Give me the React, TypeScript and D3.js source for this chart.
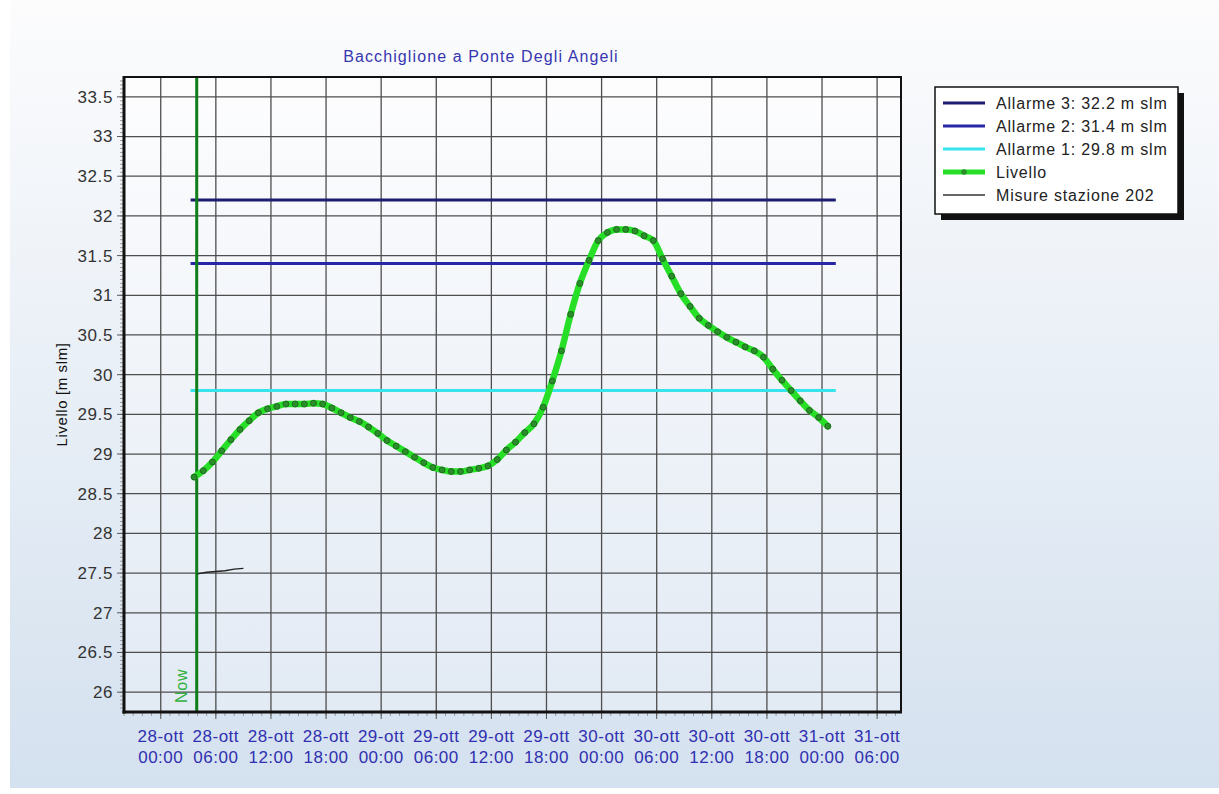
import { useEffect, useRef } from "react";
import * as d3 from "d3";

const title = "Bacchiglione a Ponte Degli Angeli";
const yLabel = "Livello [m slm]";
const nowLabel = "Now";

// x domain of the chart (27-ott 20:00 -> 31-ott 08:36)
const xDomain = [new Date(2018, 9, 27, 20, 0), new Date(2018, 9, 31, 8, 36)];
const yTicks = [26, 26.5, 27, 27.5, 28, 28.5, 29, 29.5, 30, 30.5, 31, 31.5, 32, 32.5, 33, 33.5];
const nowTime = new Date(2018, 9, 28, 3, 55);

// alarm thresholds
const alarmLabels = ["Allarme 3: 32.2 m slm", "Allarme 2: 31.4 m slm", "Allarme 1: 29.8 m slm"];
const alarmValues = [32.2, 31.4, 29.8];
const alarmFrom = new Date(2018, 9, 28, 3, 15);
const alarmTo = new Date(2018, 9, 31, 1, 30);

// forecast level, hourly from 28-ott 03:38
const livelloStart = new Date(2018, 9, 28, 3, 38);
const livello = [
  28.71, 28.79, 28.9, 29.04, 29.18, 29.31, 29.42, 29.52, 29.57, 29.6,
  29.63, 29.63, 29.63, 29.64, 29.63, 29.58, 29.52, 29.46, 29.41, 29.34,
  29.26, 29.17, 29.1, 29.03, 28.96, 28.89, 28.83, 28.8, 28.78, 28.78,
  28.8, 28.82, 28.85, 28.93, 29.05, 29.15, 29.27, 29.38, 29.59, 29.92,
  30.3, 30.76, 31.15, 31.44, 31.69, 31.79, 31.83, 31.83, 31.81, 31.75,
  31.69, 31.46, 31.24, 31.02, 30.86, 30.71, 30.62, 30.54, 30.47, 30.41,
  30.35, 30.3, 30.22, 30.07, 29.93, 29.8, 29.67, 29.55, 29.46, 29.35,
];

// station measurements
const misureTimes = [
  new Date(2018, 9, 28, 4, 0), new Date(2018, 9, 28, 5, 0), new Date(2018, 9, 28, 6, 0),
  new Date(2018, 9, 28, 7, 0), new Date(2018, 9, 28, 8, 0), new Date(2018, 9, 28, 9, 0),
];
const misure = [27.49, 27.51, 27.52, 27.53, 27.55, 27.56];

const legendLabels = [...alarmLabels, "Livello", "Misure stazione 202"];

export default function App() {
  const ref = useRef<SVGSVGElement | null>(null);

  useEffect(() => {
    if (!ref.current) return;
    const width = 1219, height = 794;
    const margin = { top: 77, right: 318, bottom: 82, left: 124 };
    const font = "'Liberation Sans', Arial, sans-serif";

    const svg = d3.select(ref.current);
    svg.selectAll("*").remove();
    svg.attr("width", width).attr("height", height);

    const defs = svg.append("defs");
    const bg = defs.append("linearGradient").attr("id", "bg").attr("x1", 0).attr("y1", 0).attr("x2", 0).attr("y2", 1);
    bg.append("stop").attr("offset", "0%").attr("stop-color", "#fcfcfd");
    bg.append("stop").attr("offset", "100%").attr("stop-color", "#d4e1ef");
    const pbg = defs.append("linearGradient").attr("id", "pbg").attr("x1", 0).attr("y1", 0).attr("x2", 0).attr("y2", 1);
    pbg.append("stop").attr("offset", "0%").attr("stop-color", "#fdfdfe");
    pbg.append("stop").attr("offset", "100%").attr("stop-color", "#e2eaf4");
    const clip = defs.append("clipPath").attr("id", "plotclip");

    svg.append("rect").attr("width", width).attr("height", height).attr("fill", "#ffffff");
    svg.append("rect").attr("x", 10).attr("y", 0).attr("width", width - 10).attr("height", height - 6).attr("fill", "url(#bg)");

    const x = d3.scaleTime().domain(xDomain).range([margin.left, width - margin.right]);
    const y = d3.scaleLinear().domain([25.75, 33.75]).range([height - margin.bottom, margin.top]);
    const [x0, x1] = x.range();
    const [y0, y1] = y.range();

    clip.append("rect").attr("x", x0).attr("y", y1).attr("width", x1 - x0).attr("height", y0 - y1);

    svg.append("rect").attr("x", x0).attr("y", y1).attr("width", x1 - x0).attr("height", y0 - y1).attr("fill", "url(#pbg)");

    // Title
    svg.append("text")
      .attr("x", 481).attr("y", 62)
      .attr("text-anchor", "middle")
      .attr("font-family", font).attr("font-size", 16).attr("letter-spacing", 1.1)
      .attr("fill", "#3636b0")
      .text(title);

    const xTicks = d3.timeHour.every(6)!.range(xDomain[0], xDomain[1]);
    const xMinor = d3.timeMinute.every(90)!.range(xDomain[0], xDomain[1]);
    const yMinor = d3.range(25.8, 33.75, 0.05);

    // Grid
    const grid = svg.append("g").attr("stroke", "#4e4e4e").attr("stroke-width", 1.3);
    grid.selectAll("line.v").data(xTicks).enter().append("line")
      .attr("x1", d => x(d)).attr("x2", d => x(d)).attr("y1", y1).attr("y2", y0);
    grid.selectAll("line.h").data(yTicks).enter().append("line")
      .attr("x1", x0).attr("x2", x1).attr("y1", d => y(d)).attr("y2", d => y(d));

    // minor ticks
    svg.append("g").attr("stroke", "#9a9a9a").selectAll("line").data(yMinor).enter().append("line")
      .attr("x1", x0 - 4).attr("x2", x0).attr("y1", d => y(d)).attr("y2", d => y(d));
    svg.append("g").attr("stroke", "#9a9a9a").selectAll("line").data(xMinor).enter().append("line")
      .attr("x1", d => x(d)).attr("x2", d => x(d)).attr("y1", y0).attr("y2", y0 + 4);
    svg.append("g").attr("stroke", "#555").selectAll("line").data(yTicks).enter().append("line")
      .attr("x1", x0 - 7).attr("x2", x0).attr("y1", d => y(d)).attr("y2", d => y(d));
    svg.append("g").attr("stroke", "#555").selectAll("line").data(xTicks).enter().append("line")
      .attr("x1", d => x(d)).attr("x2", d => x(d)).attr("y1", y0).attr("y2", y0 + 7);

    const plot = svg.append("g").attr("clip-path", "url(#plotclip)");

    // Alarm lines
    const alarmColors = ["#1c1c70", "#2626a6", "#38e4ec"];
    plot.selectAll("line.alarm").data(alarmValues).enter().append("line")
      .attr("x1", x(alarmFrom)).attr("x2", x(alarmTo))
      .attr("y1", d => y(d)).attr("y2", d => y(d))
      .attr("stroke", (_, i) => alarmColors[i]).attr("stroke-width", 3);

    // Now line
    plot.append("line")
      .attr("x1", x(nowTime)).attr("x2", x(nowTime)).attr("y1", y1).attr("y2", y0)
      .attr("stroke", "#0f7d1a").attr("stroke-width", 3);
    svg.append("text")
      .attr("transform", `translate(${x(nowTime) - 10},${y0 - 9}) rotate(-90)`)
      .attr("font-family", font).attr("font-size", 16).attr("letter-spacing", 0.8)
      .attr("fill", "#30b03c")
      .text(nowLabel);

    // Livello
    const livPts = livello.map((v, i) => ({ t: d3.timeHour.offset(livelloStart, i), v }));
    const line = d3.line<{ t: Date; v: number }>().x(d => x(d.t)).y(d => y(d.v)).curve(d3.curveMonotoneX);
    plot.append("path").datum(livPts).attr("d", line)
      .attr("fill", "none").attr("stroke", "#26df26").attr("stroke-width", 6.5)
      .attr("stroke-linejoin", "round").attr("stroke-linecap", "round");
    plot.selectAll("circle.pt").data(livPts).enter().append("circle")
      .attr("cx", d => x(d.t)).attr("cy", d => y(d.v)).attr("r", 3)
      .attr("fill", "#2a8f2a").attr("stroke", "#1a601a").attr("stroke-width", 0.8);

    // Misure
    const misPts = misure.map((v, i) => ({ t: misureTimes[i], v }));
    plot.append("path").datum(misPts).attr("d", d3.line<{ t: Date; v: number }>().x(d => x(d.t)).y(d => y(d.v)))
      .attr("fill", "none").attr("stroke", "#222").attr("stroke-width", 1.4);

    // Plot frame
    svg.append("rect").attr("x", x0).attr("y", y1).attr("width", x1 - x0).attr("height", y0 - y1)
      .attr("fill", "none").attr("stroke", "#111").attr("stroke-width", 2);
    svg.append("line").attr("x1", x0).attr("x2", x0).attr("y1", y1 - 1).attr("y2", y0 + 1.5)
      .attr("stroke", "#111").attr("stroke-width", 3);
    svg.append("line").attr("x1", x0 - 1.5).attr("x2", x1 + 1).attr("y1", y0).attr("y2", y0)
      .attr("stroke", "#111").attr("stroke-width", 3);

    // Y labels
    svg.append("g").selectAll("text").data(yTicks).enter().append("text")
      .attr("x", x0 - 11).attr("y", d => y(d)).attr("dy", "0.35em")
      .attr("text-anchor", "end").attr("font-family", font).attr("font-size", 17).attr("letter-spacing", 0.6)
      .attr("fill", "#333")
      .text(d => String(d));

    // X labels
    const dayFmt = d3.timeFormat("%d");
    const hourFmt = d3.timeFormat("%H:%M");
    const xl = svg.append("g").selectAll("text").data(xTicks).enter().append("text")
      .attr("text-anchor", "middle").attr("font-family", font).attr("font-size", 17).attr("letter-spacing", 0.5)
      .attr("fill", "#3030b0");
    xl.append("tspan").attr("x", d => x(d)).attr("y", y0 + 30).text(d => `${dayFmt(d)}-ott`);
    xl.append("tspan").attr("x", d => x(d)).attr("y", y0 + 51).text(d => hourFmt(d));

    // Y axis label
    svg.append("text")
      .attr("transform", `translate(67,${(y0 + y1) / 2}) rotate(-90)`)
      .attr("text-anchor", "middle").attr("font-family", font).attr("font-size", 15).attr("letter-spacing", 0.6)
      .attr("fill", "#111")
      .text(yLabel);

    // Legend
    const lg = svg.append("g");
    lg.append("rect").attr("x", 941).attr("y", 93).attr("width", 243).attr("height", 127).attr("fill", "#111");
    lg.append("rect").attr("x", 935).attr("y", 87).attr("width", 243).attr("height", 127)
      .attr("fill", "#ffffff").attr("stroke", "#111").attr("stroke-width", 1.5);
    const legendColors = [...alarmColors, "#26df26", "#333"];
    const legendWidths = [3, 3, 3, 5, 1.3];
    legendLabels.forEach((label, i) => {
      const ly = 103 + i * 23;
      lg.append("line").attr("x1", 943).attr("x2", 985).attr("y1", ly).attr("y2", ly)
        .attr("stroke", legendColors[i]).attr("stroke-width", legendWidths[i]);
      if (label === "Livello") {
        lg.append("circle").attr("cx", 964).attr("cy", ly).attr("r", 2.8).attr("fill", "#2a8f2a");
      }
      lg.append("text").attr("x", 996).attr("y", ly).attr("dy", "0.35em")
        .attr("font-family", font).attr("font-size", 16).attr("letter-spacing", 0.8).attr("fill", "#222")
        .text(label);
    });
  }, []);

  return (
    <div style={{ position: "absolute", left: 0, top: 0 }}>
      <svg ref={ref} style={{ display: "block" }} />
    </div>
  );
}
